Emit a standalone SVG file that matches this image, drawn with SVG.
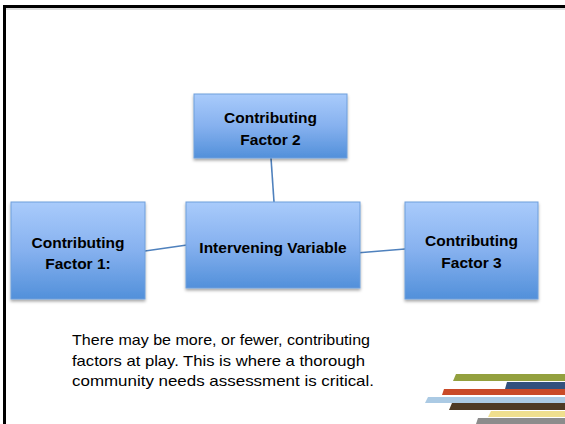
<svg xmlns="http://www.w3.org/2000/svg" width="565" height="424" viewBox="0 0 565 424">
<defs>
<linearGradient id="boxGrad" x1="0" y1="0" x2="0" y2="1">
<stop offset="0" stop-color="#a9cbfb"/>
<stop offset="0.5" stop-color="#86b1ef"/>
<stop offset="1" stop-color="#5290da"/>
</linearGradient>
<filter id="shadow" x="-10%" y="-10%" width="120%" height="130%">
<feDropShadow dx="0" dy="2" stdDeviation="1.5" flood-color="#000" flood-opacity="0.35"/>
</filter>
</defs>
<style>
.box{fill:url(#boxGrad);stroke:#6f9fdc;stroke-width:1;filter:url(#shadow)}
.lbl{font-family:"Liberation Sans",Arial,sans-serif;font-weight:bold;font-size:15.5px;fill:#000;text-anchor:middle}
.body{font-family:"Liberation Sans",Arial,sans-serif;font-size:15px;fill:#000}
.conn{stroke:#4f81bd;stroke-width:1.6;fill:none}
</style>
<rect width="565" height="424" fill="#fff"/>
<g id="frame">
<line x1="6" y1="9" x2="565" y2="9" stroke="#bbb" stroke-width="1"/>
<path d="M4.5 424 V6.5 H565" stroke="#000" stroke-width="3" fill="none"/>
</g>
<g id="connectors">
<line class="conn" x1="271" y1="158" x2="274" y2="202"/>
<line class="conn" x1="145" y1="251" x2="187" y2="245"/>
<line class="conn" x1="356" y1="253" x2="405" y2="249"/>
</g>
<g id="cf2">
<rect class="box" x="194" y="94" width="153" height="64"/>
<text class="lbl" x="270.5" y="123">Contributing</text>
<text class="lbl" x="270.5" y="145">Factor 2</text>
</g>
<g id="iv">
<rect class="box" x="186" y="202" width="174" height="86"/>
<text class="lbl" x="273" y="253">Intervening Variable</text>
</g>
<g id="cf1">
<rect class="box" x="11" y="202" width="134" height="97"/>
<text class="lbl" x="78" y="248">Contributing</text>
<text class="lbl" x="78" y="269">Factor 1:</text>
</g>
<g id="cf3">
<rect class="box" x="405" y="202" width="133" height="97"/>
<text class="lbl" x="471.5" y="246">Contributing</text>
<text class="lbl" x="471.5" y="268">Factor 3</text>
</g>
<g id="note">
<text class="body" x="72" y="345" textLength="298" lengthAdjust="spacingAndGlyphs">There may be more, or fewer, contributing</text>
<text class="body" x="72" y="366" textLength="293" lengthAdjust="spacingAndGlyphs">factors at play. This is where a thorough</text>
<text class="body" x="72" y="386" textLength="302" lengthAdjust="spacingAndGlyphs">community needs assessment is critical.</text>
</g>
<g id="stripes">
<polygon points="456,374 565,374 565,381 453,381" fill="#93a03e"/>
<polygon points="507,382 565,382 565,389 505,389" fill="#33507c"/>
<polygon points="444,389 565,389 565,395 442,395" fill="#c94a28"/>
<polygon points="428,397 565,397 565,403 425,403" fill="#abcae4"/>
<polygon points="452,403 565,403 565,410 449,410" fill="#4e3a25"/>
<polygon points="491,411 565,411 565,417 488,417" fill="#efdf8e"/>
<polygon points="478,418 565,418 565,424 476,424" fill="#8c8c8c"/>
</g>
</svg>
